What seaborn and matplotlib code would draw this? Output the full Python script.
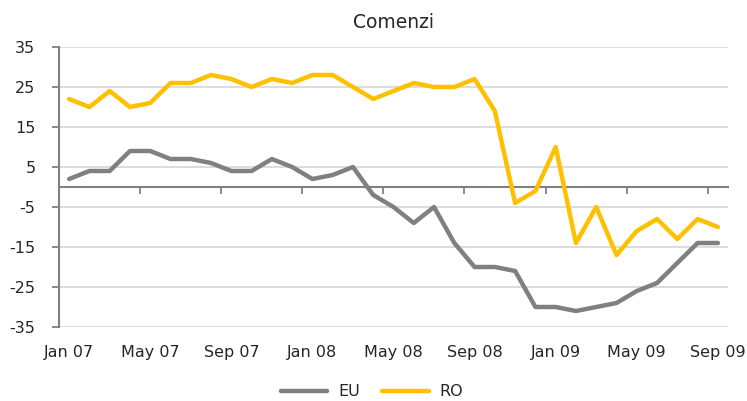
import numpy as np
import pandas as pd
import matplotlib
matplotlib.use("Agg")
import matplotlib.pyplot as plt
import seaborn as sns

months = ["Jan 07","Feb 07","Mar 07","Apr 07","May 07","Jun 07","Jul 07","Aug 07","Sep 07","Oct 07","Nov 07","Dec 07",
          "Jan 08","Feb 08","Mar 08","Apr 08","May 08","Jun 08","Jul 08","Aug 08","Sep 08","Oct 08","Nov 08","Dec 08",
          "Jan 09","Feb 09","Mar 09","Apr 09","May 09","Jun 09","Jul 09","Aug 09","Sep 09"]
eu = [2, 4, 4, 9, 9, 7, 7, 6, 4, 4, 7, 5, 2, 3, 5, -2, -5, -9, -5, -14, -20, -20, -21, -30, -30, -31, -30, -29, -26, -24, -19, -14, -14]
ro = [22, 20, 24, 20, 21, 26, 26, 28, 27, 25, 27, 26, 28, 28, 25, 22, 24, 26, 25, 25, 27, 19, -4, -1, 10, -14, -5, -17, -11, -8, -13, -8, -10]
series_names = ["EU", "RO"]
title = "Comenzi"
y_ticks = [-35, -25, -15, -5, 5, 15, 25, 35]

idx = np.arange(len(months))
df = pd.DataFrame({
    "i": np.concatenate([idx, idx]),
    "value": eu + ro,
    "series": ["EU"] * len(eu) + ["RO"] * len(ro),
})

sns.set_style("white")
plt.rcParams["font.family"] = ["DejaVu Sans"]

fig = plt.figure(figsize=(7.47, 4.01), dpi=100)
ax = fig.add_axes([59/747, 1-327/401, (728-59)/747, (327-47)/401])

sns.lineplot(data=df, x="i", y="value", hue="series", hue_order=series_names,
             palette={"EU": "#808080", "RO": "#FFC000"}, linewidth=3.2,
             ax=ax, legend=True)

ax.set_xlim(-0.5, len(months) - 0.5)
ax.set_ylim(-35, 35)
ax.set_yticks(y_ticks)
ax.set_yticklabels([str(v) for v in y_ticks], fontsize=11.5)
ax.yaxis.grid(True, color="#d9d9d9", linewidth=1.3)
ax.set_axisbelow(True)

xt = idx[::4]
ax.set_xticks(xt)
ax.set_xticklabels([months[k] for k in xt], fontsize=11.5)
ax.tick_params(axis="x", length=0, pad=13)
ax.tick_params(axis="y", length=5, width=1.3, color="#808080", direction="out", pad=12, left=True)
ax.set_xlabel("")
ax.set_ylabel("")

for s in ["top", "right", "bottom"]:
    ax.spines[s].set_visible(False)
ax.spines["left"].set_color("#808080")
ax.spines["left"].set_linewidth(1.5)

# zero axis with tick marks between categories (ticks pointing down)
sec = ax.secondary_xaxis(0.49999)
sec.xaxis.set_ticks_position("bottom")
sec.set_xticks(np.arange(-0.5, len(months), 4))
sec.set_xticklabels([])
sec.tick_params(axis="x", which="both", bottom=True, top=False, length=5, width=1.3,
                color="#808080", direction="out")
for sp in sec.spines.values():
    sp.set_color("#808080")
    sp.set_linewidth(1.5)

ax.set_title(title, fontsize=13.5, pad=14)

handles, labels = ax.get_legend_handles_labels()
ax.legend(handles, labels, loc="center", bbox_to_anchor=(372/747, 1-392/401),
          bbox_transform=fig.transFigure, ncol=2, frameon=False, fontsize=11.5,
          handlelength=2.9, columnspacing=1.4, handletextpad=0.7)

fig.savefig("out.png", dpi=100)
